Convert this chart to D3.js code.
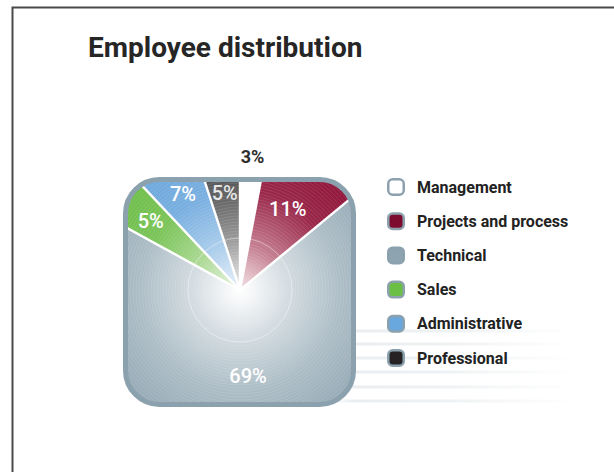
<!DOCTYPE html>
<html>
<head>
<meta charset="utf-8">
<script src="https://cdn.jsdelivr.net/npm/d3@7"></script>
<style>
  html, body { margin: 0; padding: 0; background: #fff; }
  svg { display: block; }
</style>
</head>
<body>
<svg id="chart" width="614" height="472"></svg>
<script>
// Employee distribution by department (percent of headcount)
const categories = ["Management", "Projects and process", "Technical", "Sales", "Administrative", "Professional"];
const values = [3, 11, 69, 5, 7, 5];
const valueLabels = ["3%", "11%", "69%", "5%", "7%", "5%"];
const title = "Employee distribution";

// Slice palette: solid colour (legend / outer rim) and pale tint towards the hub
const solid = ["#ffffff", "#7d0a2f", "#8da3af", "#6bbf45", "#69a8de", "#262223"];
const outerTone = ["#ffffff", "#8e0f35", "#8fa5b1", "#6cbd47", "#6aa6dc", "#4a4a4c"];
const innerTone = ["#ffffff", "#f3dfe3", "#ffffff", "#e9f4e1", "#e8f1fa", "#eeeeee"];
// Label distance from hub for each slice (3% sits outside the white slice)
const labelRadius = [134, 94, 86, 113, 112, 98];

const svg = d3.select("#chart");
const defs = svg.append("defs");

const cx = 240, cy = 290;
const box = { x: 125.5, y: 179.5, w: 228, h: 225, r: 34 };

// Outer frame (top and left rules)
svg.append("path")
  .attr("d", "M12.5,472 L12.5,7.5 L614,7.5")
  .attr("fill", "none")
  .attr("stroke", "#4a4a4a")
  .attr("stroke-width", 2);

// Title
svg.append("text")
  .attr("x", 88).attr("y", 57)
  .attr("font-family", "Roboto, 'DejaVu Sans', sans-serif")
  .attr("font-weight", 700)
  .attr("font-size", 28)
  .attr("fill", "#262626")
  .text(title);

// Soft horizontal streaks behind the legend
const streakGrad = defs.append("linearGradient").attr("id", "streak")
  .attr("x1", "0%").attr("x2", "100%").attr("y1", "0%").attr("y2", "0%");
[[0, 0], [0.1, 0.25], [0.5, 0.18], [1, 0]].forEach(([o, a]) =>
  streakGrad.append("stop").attr("offset", o).attr("stop-color", "#a9b9c2").attr("stop-opacity", a));
const streakY = [331, 344, 358, 372, 387, 401];
svg.append("g").selectAll("rect").data(streakY).join("rect")
  .attr("x", 330).attr("y", d => d - 1.5)
  .attr("width", 245).attr("height", 3)
  .attr("fill", "url(#streak)");

// Radial gradients, one per slice, centred on the hub (slice group origin);
// the large technical slice fades in more gently than the narrow ones
const gradStops = [[0, 0], [0.1, 0.15], [0.3, 0.5], [0.6, 0.88], [1, 1]];
const softStops = [[0, 0], [0.1, 0.12], [0.3, 0.4], [0.6, 0.72], [1, 1]];
categories.forEach((c, i) => {
  const g = defs.append("radialGradient").attr("id", "grad" + i)
    .attr("gradientUnits", "userSpaceOnUse")
    .attr("cx", 0).attr("cy", 0).attr("r", 165);
  const mix = d3.interpolateRgb(innerTone[i], outerTone[i]);
  (i === 2 ? softStops : gradStops)
    .forEach(([o, t]) => g.append("stop").attr("offset", o).attr("stop-color", mix(t)));
});

// Rounded square clip
defs.append("clipPath").attr("id", "boxClip")
  .append("rect")
  .attr("x", box.x).attr("y", box.y).attr("width", box.w).attr("height", box.h)
  .attr("rx", box.r).attr("ry", box.r);

const pie = d3.pie().sort(null).value(d => d.value);
const rows = categories.map((c, i) => ({ name: c, value: values[i], label: valueLabels[i], i }));
const arcs = pie(rows);
const arc = d3.arc().innerRadius(0).outerRadius(200);

const plot = svg.append("g").attr("clip-path", "url(#boxClip)");
const slices = plot.append("g").attr("transform", `translate(${cx},${cy})`);

slices.selectAll("path").data(arcs).join("path")
  .attr("d", arc)
  .attr("fill", d => `url(#grad${d.data.i})`);

// Fine concentric ring texture
const rings = d3.range(5, 200, 3);
slices.append("g").selectAll("circle").data(rings).join("circle")
  .attr("r", d => d)
  .attr("fill", "none")
  .attr("stroke", "#ffffff")
  .attr("stroke-opacity", 0.14)
  .attr("stroke-width", 0.8);
slices.append("circle")
  .attr("r", 52).attr("fill", "none")
  .attr("stroke", "#ffffff").attr("stroke-opacity", 0.45).attr("stroke-width", 1);

// White separators between slices
slices.append("g").selectAll("line").data(arcs).join("line")
  .attr("x1", 0).attr("y1", 0)
  .attr("x2", d => 200 * Math.sin(d.startAngle))
  .attr("y2", d => -200 * Math.cos(d.startAngle))
  .attr("stroke", "#ffffff")
  .attr("stroke-width", 2.4);

// Frame of the rounded square
svg.append("rect")
  .attr("x", box.x).attr("y", box.y).attr("width", box.w).attr("height", box.h)
  .attr("rx", box.r).attr("ry", box.r)
  .attr("fill", "none")
  .attr("stroke", "#8ba1ad")
  .attr("stroke-width", 5);

// Value labels
svg.append("g").attr("transform", `translate(${cx},${cy})`)
  .selectAll("text").data(arcs).join("text")
  .attr("x", d => labelRadius[d.data.i] * Math.sin((d.startAngle + d.endAngle) / 2))
  .attr("y", d => -labelRadius[d.data.i] * Math.cos((d.startAngle + d.endAngle) / 2))
  .attr("dy", "0.35em")
  .attr("text-anchor", "middle")
  .attr("font-family", "Roboto, 'DejaVu Sans', sans-serif")
  .attr("font-weight", d => d.data.i === 0 ? 700 : 500)
  .attr("font-size", d => d.data.i === 0 ? 18 : 20)
  .attr("fill", d => d.data.i === 0 ? "#2e2e2e" : "#ffffff")
  .attr("fill-opacity", d => d.data.i === 5 ? 0.85 : 1)
  .text(d => d.data.label);

// Legend
const ly = d3.scalePoint().domain(categories).range([187, 358]);
const legend = svg.append("g").selectAll("g").data(rows).join("g")
  .attr("transform", d => `translate(387,${ly(d.name)})`);
legend.append("rect")
  .attr("x", 1.25).attr("y", -7.75).attr("width", 15.5).attr("height", 15.5)
  .attr("rx", 4.5).attr("ry", 4.5)
  .attr("fill", d => solid[d.i])
  .attr("stroke", "#8ba1ad")
  .attr("stroke-width", 2.5);
legend.append("text")
  .attr("x", 30).attr("y", 0).attr("dy", "0.35em")
  .attr("font-family", "Roboto, 'DejaVu Sans', sans-serif")
  .attr("font-weight", 700)
  .attr("font-size", 16)
  .attr("fill", "#222222")
  .text(d => d.name);
</script>
</body>
</html>
